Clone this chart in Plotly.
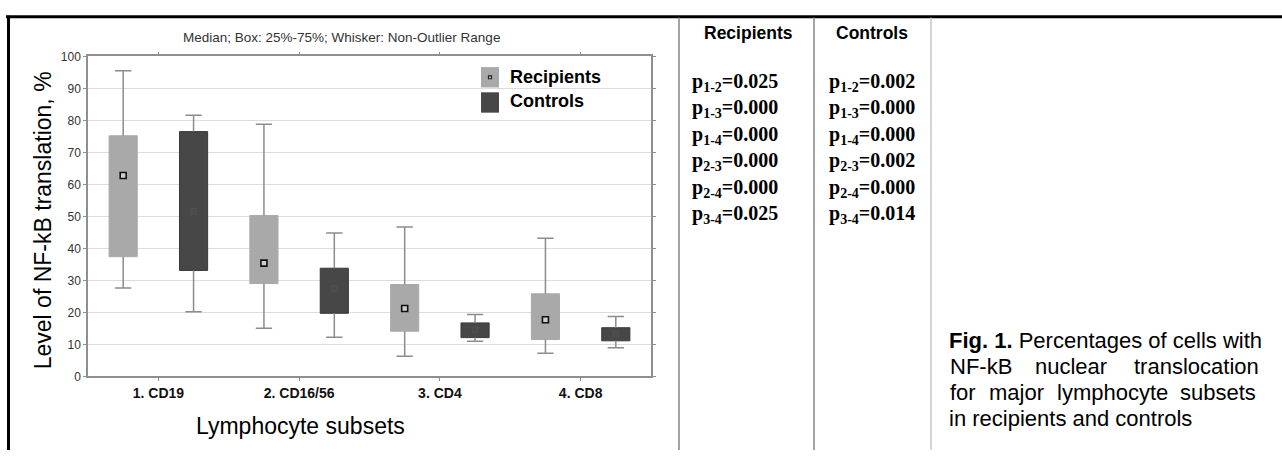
import plotly.graph_objects as go

W, H = 1282, 457

categories = ["1. CD19", "2. CD16/56", "3. CD4", "4. CD8"]

# Recipients: lower whisker, Q1, median, Q3, upper whisker (%)
rec_low = [27.6, 15.0, 6.3, 7.2]
rec_q1 = [37.4, 29.0, 14.1, 11.5]
rec_median = [62.8, 35.4, 21.2, 17.7]
rec_q3 = [75.2, 50.3, 28.7, 25.8]
rec_high = [95.5, 78.8, 46.7, 43.2]

# Controls: lower whisker, Q1, median, Q3, upper whisker (%)
ctl_low = [20.2, 12.2, 11.0, 8.9]
ctl_q1 = [33.1, 19.7, 12.1, 11.1]
ctl_median = [51.5, 27.4, 14.5, 13.0]
ctl_q3 = [76.5, 33.8, 16.7, 15.2]
ctl_high = [81.6, 44.8, 19.3, 18.7]

y_ticks = [0, 10, 20, 30, 40, 50, 60, 70, 80, 90, 100]

# Pairwise comparisons between subsets
pairs = [("1", "2"), ("1", "3"), ("1", "4"), ("2", "3"), ("2", "4"), ("3", "4")]
p_recipients = ["0.025", "0.000", "0.000", "0.000", "0.000", "0.025"]
p_controls = ["0.002", "0.000", "0.000", "0.002", "0.000", "0.014"]

REC_FILL, CTL_FILL = "#a9a9a9", "#474747"
WHISKER = "#8c8c8c"
BOX_W, CAP = 0.2, 0.058
SANS = "Arial, Liberation Sans, sans-serif"
SERIF = "Liberation Serif, Times New Roman, serif"


def px(x):
    return x / W


def py(y):
    return 1 - y / H


fig = go.Figure()


def add_series(name, offset, low, q1, med, q3, high, fill, edge, mk_fill, mk_line, mk_w):
    xs = [i + offset for i in range(len(categories))]
    fig.add_trace(go.Bar(
        name=name, x=xs, y=[b - a for a, b in zip(q1, q3)], base=q1,
        width=BOX_W, marker=dict(color=fill, line=dict(color=edge, width=1)),
        showlegend=False, hoverinfo="skip"))
    wx, wy = [], []
    for x, lo, a, b, hi in zip(xs, low, q1, q3, high):
        wx += [x, x, None, x, x, None, x - CAP, x + CAP, None, x - CAP, x + CAP, None]
        wy += [b, hi, None, lo, a, None, hi, hi, None, lo, lo, None]
    fig.add_trace(go.Scatter(x=wx, y=wy, mode="lines",
                             line=dict(color=WHISKER, width=1.5),
                             showlegend=False, hoverinfo="skip"))
    fig.add_trace(go.Scatter(x=xs, y=med, mode="markers",
                             marker=dict(symbol="square", size=6, color=mk_fill,
                                         line=dict(color=mk_line, width=mk_w)),
                             showlegend=False, hoverinfo="skip"))


add_series("Recipients", -0.25, rec_low, rec_q1, rec_median, rec_q3, rec_high,
           REC_FILL, REC_FILL, "#cfcfcf", "#111111", 1.6)
add_series("Controls", 0.25, ctl_low, ctl_q1, ctl_median, ctl_q3, ctl_high,
           CTL_FILL, "#3a3a3a", "#4b4b4b", "#505050", 1)

x0, x1, yt, yb = 88, 651, 51, 381

axis_common = dict(showline=True, linecolor="#8f8f8f", linewidth=1.5, mirror="allticks",
                   ticks="outside", ticklen=3, tickcolor="#8f8f8f", zeroline=False)

fig.update_layout(
    width=W, height=H, margin=dict(l=0, r=0, t=0, b=0),
    paper_bgcolor="white", plot_bgcolor="white",
    barmode="overlay", showlegend=False,
    font=dict(family=SANS, color="#000"),
    xaxis=dict(domain=[px(x0), px(x1)], range=[-0.5, 3.5],
               tickvals=list(range(len(categories))), ticktext=categories,
               tickfont=dict(size=14, color="#111", weight="bold"),
               showgrid=False, **axis_common),
    yaxis=dict(domain=[py(yb), py(yt)], range=[0, 100], tickvals=y_ticks,
               tickfont=dict(size=12, color="#333"),
               showgrid=True, gridcolor="#dcdcdc", gridwidth=1, **axis_common),
)

ann = []


def text(x, y, s, size, xanchor="center", yanchor="middle", color="#000",
         family=SANS, angle=0, weight="normal"):
    ann.append(dict(x=px(x), y=py(y), xref="paper", yref="paper", text=s,
                    showarrow=False, xanchor=xanchor, yanchor=yanchor,
                    textangle=angle,
                    font=dict(size=size, color=color, family=family, weight=weight)))


# Chart title and axis titles
text(341, 31, "Median; Box: 25%-75%; Whisker: Non-Outlier Range", 13.5, color="#333")
text(43, 220, "Level of NF-kB translation, %", 23, angle=-90)
text(300, 432, "Lymphocyte subsets", 23)

# Legend
shapes = []
shapes.append(dict(type="rect", xref="paper", yref="paper", x0=px(481), x1=px(499),
                   y0=py(83), y1=py(62), fillcolor=REC_FILL, line=dict(width=0)))
shapes.append(dict(type="rect", xref="paper", yref="paper", x0=px(488.5), x1=px(491.5),
                   y0=py(74), y1=py(71), fillcolor="#cccccc",
                   line=dict(color="#222", width=1.2)))
shapes.append(dict(type="rect", xref="paper", yref="paper", x0=px(481), x1=px(499),
                   y0=py(109), y1=py(88), fillcolor=CTL_FILL, line=dict(width=0)))
text(508, 72, "Recipients", 18, xanchor="left", weight="bold")
text(508, 97, "Controls", 18, xanchor="left", weight="bold")

# Frame and table rules
shapes.append(dict(type="line", xref="paper", yref="paper", x0=px(6), x1=1,
                   y0=py(10), y1=py(10), line=dict(color="#000", width=3)))
shapes.append(dict(type="line", xref="paper", yref="paper", x0=px(8.5), x1=px(8.5),
                   y0=py(9), y1=0, line=dict(color="#000", width=3)))
for xv, col in [(679, "#a3a3a3"), (814, "#a3a3a3"), (931, "#d4d4d4")]:
    shapes.append(dict(type="line", xref="paper", yref="paper", x0=px(xv), x1=px(xv),
                       y0=py(11), y1=0, line=dict(color=col, width=2)))

# p-value table
text(748, 27, "Recipients", 17.5, weight="bold")
text(872, 27, "Controls", 17.5, weight="bold")
for k, ((a, b), pr, pc) in enumerate(zip(pairs, p_recipients, p_controls)):
    yy = 78 + 27.2 * k
    text(690, yy, f"p<sub>{a}-{b}</sub>={pr}", 20, xanchor="left", family=SERIF,
         weight="bold")
    text(827, yy, f"p<sub>{a}-{b}</sub>={pc}", 20, xanchor="left", family=SERIF,
         weight="bold")

# Figure caption
text(947, 344, "<b>Fig. 1.</b> Percentages of cells with", 22, xanchor="left")
text(948, 371, "NF-kB", 22, xanchor="left")
text(1071, 371, "nuclear", 22)
text(1261, 371, "translocation", 22, xanchor="right")
text(948, 398, "for", 22, xanchor="left")
text(987, 398, "major", 22, xanchor="left")
text(1055, 398, "lymphocyte", 22, xanchor="left")
text(1258, 398, "subsets", 22, xanchor="right")
text(947, 425, "in recipients and controls", 22, xanchor="left")

fig.update_layout(annotations=ann, shapes=shapes)
fig.write_html("out.html")
